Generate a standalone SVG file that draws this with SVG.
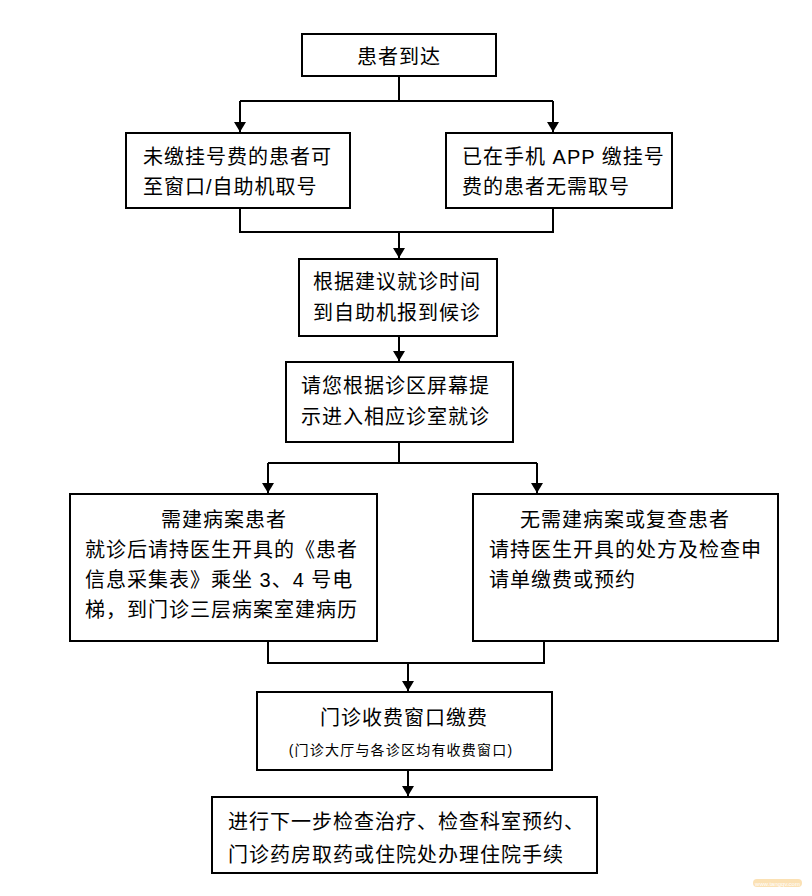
<svg xmlns="http://www.w3.org/2000/svg" width="812" height="896" viewBox="0 0 812 896">
<defs>
<marker id="ah" viewBox="0 0 10 12" refX="10" refY="6" markerWidth="10" markerHeight="12" markerUnits="userSpaceOnUse" orient="auto">
<path d="M0,0 L10,6 L0,12 Z" fill="#000"/>
</marker>
<style>
.box{fill:#fff;stroke:#000;stroke-width:2}
.t{font-family:"Liberation Sans","Noto Sans CJK SC",sans-serif;font-size:20px;fill:#000;letter-spacing:1px}
.s{font-family:"Liberation Sans","Noto Sans CJK SC",sans-serif;font-size:14px;fill:#000;letter-spacing:1.2px}
.c{text-anchor:middle}
.ln{fill:none;stroke:#000;stroke-width:2}
</style>
</defs>
<rect width="812" height="896" fill="#fff"/>
<g id="connectors">
<path class="ln" d="M399,76 V101 M240,101 H553"/>
<path class="ln" d="M240,101 V132" marker-end="url(#ah)"/>
<path class="ln" d="M553,101 V132" marker-end="url(#ah)"/>
<path class="ln" d="M240,208 V232 H553 V208"/>
<path class="ln" d="M399,232 V258" marker-end="url(#ah)"/>
<path class="ln" d="M399,336 V361" marker-end="url(#ah)"/>
<path class="ln" d="M399,442 V463 M268,463 H537"/>
<path class="ln" d="M268,463 V493" marker-end="url(#ah)"/>
<path class="ln" d="M537,463 V493" marker-end="url(#ah)"/>
<path class="ln" d="M268,641 V663 H544 V641"/>
<path class="ln" d="M408,663 V691" marker-end="url(#ah)"/>
<path class="ln" d="M408,770 V796" marker-end="url(#ah)"/>
</g>
<g id="n1">
<rect class="box" x="302" y="34" width="194" height="42"/>
<text class="t c" x="399" y="64">患者到达</text>
</g>
<g id="n2">
<rect class="box" x="126" y="133" width="224" height="75"/>
<text class="t" x="143" y="164">未缴挂号费的患者可</text>
<text class="t" x="143" y="194">至窗口/自助机取号</text>
</g>
<g id="n3">
<rect class="box" x="446" y="133" width="226" height="75"/>
<text class="t" x="462" y="164">已在手机 APP 缴挂号</text>
<text class="t" x="462" y="194">费的患者无需取号</text>
</g>
<g id="n4">
<rect class="box" x="299" y="259" width="198" height="77"/>
<text class="t" x="313" y="289">根据建议就诊时间</text>
<text class="t" x="313" y="320">到自助机报到候诊</text>
</g>
<g id="n5">
<rect class="box" x="286" y="362" width="227" height="80"/>
<text class="t" x="301" y="393">请您根据诊区屏幕提</text>
<text class="t" x="301" y="424">示进入相应诊室就诊</text>
</g>
<g id="n6">
<rect class="box" x="70" y="494" width="307" height="147"/>
<text class="t c" x="224" y="527">需建病案患者</text>
<text class="t" x="85" y="557">就诊后请持医生开具的《患者</text>
<text class="t" x="85" y="587">信息采集表》乘坐 3、4 号电</text>
<text class="t" x="85" y="617">梯，到门诊三层病案室建病历</text>
</g>
<g id="n7">
<rect class="box" x="473" y="494" width="305" height="147"/>
<text class="t c" x="625" y="527">无需建病案或复查患者</text>
<text class="t" x="489" y="557">请持医生开具的处方及检查申</text>
<text class="t" x="489" y="587">请单缴费或预约</text>
</g>
<g id="n8">
<rect class="box" x="257" y="692" width="295" height="78"/>
<text class="t c" x="404" y="725">门诊收费窗口缴费</text>
<text class="s c" x="401" y="755">(门诊大厅与各诊区均有收费窗口)</text>
</g>
<g id="n9">
<rect class="box" x="212" y="797" width="385" height="76"/>
<text class="t" x="228" y="829">进行下一步检查治疗、检查科室预约、</text>
<text class="t" x="228" y="862">门诊药房取药或住院处办理住院手续</text>
</g>
<g id="watermark" opacity="0.5">
<rect x="753" y="879" width="49" height="8" rx="4" fill="#f9c46b"/>
<text x="777.5" y="885.5" text-anchor="middle" font-family="Liberation Sans, sans-serif" font-size="6" fill="#fff">www.tangqv.com</text>
</g>
</svg>
